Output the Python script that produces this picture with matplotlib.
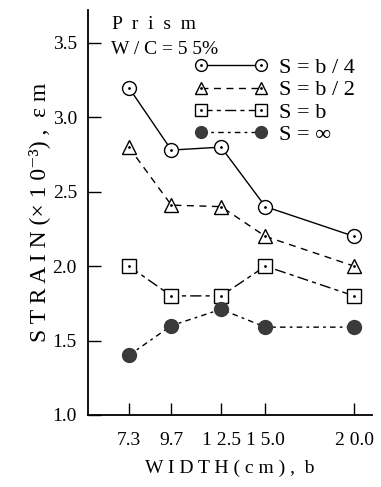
import matplotlib
matplotlib.use("Agg")
import matplotlib.pyplot as plt
from matplotlib.lines import Line2D
from matplotlib.legend_handler import HandlerTuple

plt.rcParams['font.family'] = ['Liberation Serif', 'DejaVu Serif']

# ---- data ----
width = [7.3, 9.7, 12.5, 15.0, 20.0]
width_labels = ["7.3", "9.7", "1 2.5", "1 5.0", "2 0.0"]
s_b4 = [3.2, 2.78, 2.8, 2.4, 2.2]
s_b2 = [2.8, 2.41, 2.4, 2.2, 2.0]
s_b = [2.0, 1.8, 1.8, 2.0, 1.8]
s_inf = [1.4, 1.6, 1.71, 1.59, 1.59]
y_ticks = [1.0, 1.5, 2.0, 2.5, 3.0, 3.5]

fig = plt.figure(figsize=(3.81, 4.87), dpi=100)
ax = fig.add_axes([0.231, 0.148, 0.745, 0.831])

series = [
    (s_b4, 'o', '-', 'white', "S = b / 4"),
    (s_b2, '^', (0, (5, 4)), 'white', "S = b / 2"),
    (s_b, 's', (0, (8, 3, 3, 3)), 'white', "S = b"),
    (s_inf, 'o', (0, (4, 3, 2, 3)), '#3a3a3a', "S = ∞"),
]

handles = []
labels = []
for vals, mk, ls, fc, lab in series:
    ax.plot(width, vals, color='black', lw=1.0, ls=ls, marker=mk,
            ms=10, mfc=fc, mec='black' if fc == 'white' else '#3a3a3a', mew=1.0,
            zorder=3)
    if fc == 'white':
        ax.plot(width, vals, ls='none', marker='.', ms=2, color='black', zorder=4)
        h = (Line2D([], [], color='black', lw=1.0, ls=ls, marker=mk, ms=8.5,
                    mfc=fc, mec='black', mew=1.0),
             Line2D([], [], ls='none', marker='.', ms=2, color='black'))
    else:
        h = Line2D([], [], color='black', lw=1.0, ls=ls, marker=mk, ms=8.5,
                   mfc=fc, mec='#3a3a3a', mew=1.0)
    handles.append(h)
    labels.append(lab)

ax.set_xlim(5.0, 21.0)
ax.set_ylim(1.0, 3.72)

ax.spines['top'].set_visible(False)
ax.spines['right'].set_visible(False)
ax.spines['left'].set_linewidth(1.3)
ax.spines['bottom'].set_linewidth(1.3)

ax.set_xticks(width)
ax.set_xticklabels(width_labels)
ax.tick_params(axis='x', direction='in', length=9, width=1.0, pad=12, labelsize=14)

ax.set_yticks(y_ticks)
ax.set_yticklabels([f"{v:.1f}" for v in y_ticks])
ax.tick_params(axis='y', direction='in', length=9, width=1.0, pad=8, labelsize=14)
ax.set_yticks([1.0, 2.0, 3.0], minor=True)
ax.tick_params(axis='y', which='minor', direction='in', length=14, width=1.0)

ax.set_xlabel("W I D T H ( c m ) ,  b", fontsize=14, labelpad=8)
ax.set_ylabel("S T R A I N (× 1 0⁻³) ,  ε m", fontsize=17, labelpad=2)

ax.text(0.085, 0.985, "P  r  i  s  m", transform=ax.transAxes, fontsize=14, va='top')
ax.text(0.08, 0.925, "W / C = 5 5%", transform=ax.transAxes, fontsize=14, va='top')

ax.legend(handles, labels, handler_map={tuple: HandlerTuple(ndivide=1)},
          loc='upper left', bbox_to_anchor=(0.345, 0.905), frameon=False,
          numpoints=2, handlelength=3.3, handletextpad=0.5, labelspacing=0.08,
          fontsize=16, borderaxespad=0)

fig.savefig("out.png", dpi=100)
